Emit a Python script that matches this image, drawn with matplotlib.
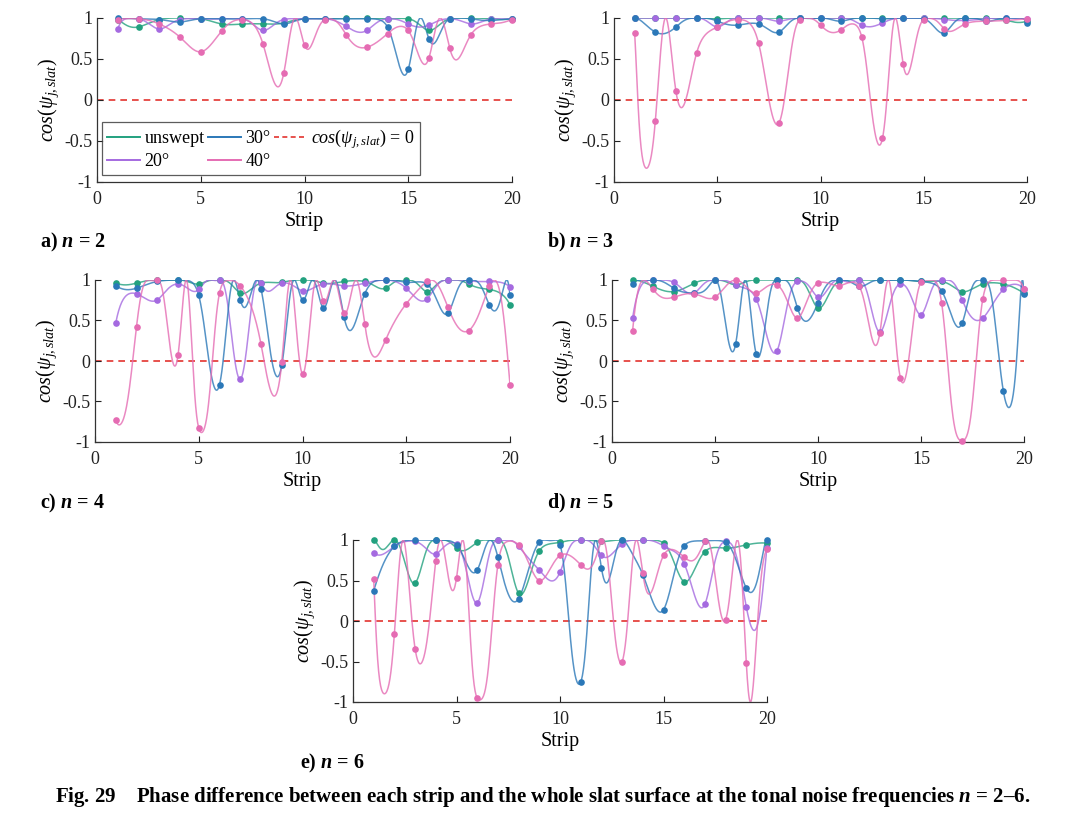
import numpy as np
import matplotlib
matplotlib.use('Agg')
import matplotlib.pyplot as plt
from matplotlib.lines import Line2D

plt.rcParams['font.family'] = ['Liberation Serif', 'DejaVu Serif']
plt.rcParams['mathtext.fontset'] = 'custom'
plt.rcParams['mathtext.rm'] = 'Liberation Serif'
plt.rcParams['mathtext.it'] = 'Liberation Serif:italic'
plt.rcParams['mathtext.bf'] = 'Liberation Serif:italic:bold'

# ─────────────────────────────────────────────
# data: phase angle psi (deg) of each strip
# the plotted value is cos(psi)
# ─────────────────────────────────────────────
strips = np.arange(1, 21)

# n = 2
n2_unswept = [11, 27, 11, 0, 8, 22, 22, 22, 20, 8, 8, 0, 0, 8, 8, 32, 8, 0, 8, 8]
n2_20 = [30, 8, 30, 11, 8, 8, 8, 32, 11, 8, 8, 26, 32, 8, 22, 24, 8, 22, 8, 8]
n2_30 = [0, 8, 11, 18, 8, 8, 8, 8, 22, 8, 8, 8, 8, 27, 68, -42, -8, -8, -14, -8]
n2_40 = [11, 8, 22, 40, 54, 33, 11, 47, 71, -48, -11, -37, -50, -36, -32, -59, 51, 38, 22, 11]

# n = 3
n3_unswept = [0, 0, 0, 0, 8, 0, 0, 0, 0, 0, 0, 0, 0, 0, 0, 0, 0, 0, 14, 16]
n3_20 = [0, 0, 0, 0, 27, 0, 0, 16, 0, 0, 0, 24, 20, 0, 0, 11, 14, 8, 0, 8]
n3_30 = [0, 34, 27, 0, 16, 24, 22, 34, 0, 0, 16, 0, 8, 0, 8, 35, 0, 16, 0, 20]
n3_40 = [35, 105, -84, -55, -27, -11, -46, -106, -11, -24, -31, -40, -118, 64, 11, 30, 22, 16, 14, 8]

# n = 4
n4_unswept = [16, 16, 0, 0, 18, 0, 33, 16, 14, 0, 16, 11, 11, 26, 0, 31, 0, 18, 28, 46]
n4_20 = [62, 34, 41, 18, 28, 0, 103, -16, -16, -30, -18, -22, -16, 0, 26, 40, 0, 8, 11, 24]
n4_30 = [22, 26, 11, 0, -36, -107, 41, -27, -93, 41, -49, 57, 34, 0, 14, 18, 54, 0, 46, -36]
n4_40 = [137, 65, 0, 86, -146, -33, -22, -78, -91, 99, -42, 54, -63, -75, -45, -11, 48, 68, 23, -107]

# n = 5
n5_unswept = [0, 23, 31, 16, 0, 20, 0, 0, 0, 49, 11, 0, 0, 0, 11, 11, 31, 18, 18, 33]
n5_20 = [58, 0, 14, 33, 0, 20, 40, 83, 11, 38, 0, 0, 69, 18, 55, 0, 41, 58, 28, 28]
n5_30 = [18, 0, 26, 33, 0, -78, 85, 0, 49, 44, 0, 23, 0, 0, 11, 30, 62, 0, 112, -34]
n5_40 = [68, -28, -38, -34, -38, 0, 33, 20, 58, 16, 22, 23, 70, -102, -14, -44, -170, -40, 0, 28]

# n = 6
n6_unswept = [0, 0, 62, 0, 26, 14, 0, 70, 30, 14, 0, 11, 0, 0, 16, 61, 31, 26, 20, 16]
n6_20 = [33, 23, 11, 34, 18, 77, 0, 23, 51, 53, 0, 36, 18, 0, 22, 45, 78, 11, 80, 26]
n6_30 = [68, 23, 0, 0, -20, -51, 38, 74, 14, 20, 139, -49, 0, 55, 82, 22, 8, 14, 66, 0]
n6_40 = [59, 99, -110, -42, 58, -162, -46, -20, -60, -36, -46, -11, 120, -54, -36, -38, -11, 89, -121, -332]

series_labels = ['unswept', '20°', '30°', '40°']
colors = ['#22a17f', '#a56ae0', '#2b78b8', '#e56cb3']

panels = [
    ('a', 2, [n2_unswept, n2_20, n2_30, n2_40]),
    ('b', 3, [n3_unswept, n3_20, n3_30, n3_40]),
    ('c', 4, [n4_unswept, n4_20, n4_30, n4_40]),
    ('d', 5, [n5_unswept, n5_20, n5_30, n5_40]),
    ('e', 6, [n6_unswept, n6_20, n6_30, n6_40]),
]

# axes boxes in pixels (left, top, right, bottom) on the 1080x813 canvas
W, H = 1080, 813
boxes = {
    'a': (97, 18, 512, 182),
    'b': (614, 18, 1027, 182),
    'c': (95, 280, 510, 442),
    'd': (612, 280, 1024, 442),
    'e': (353, 540, 767, 702),
}
tag_pos = {'a': (40, 242), 'b': (547, 242), 'c': (40, 503),
           'd': (547, 503), 'e': (300, 763)}

ZERO_CLR = '#e3342f'


def spline(x, y, xq):
    # not-a-knot cubic spline (same as MATLAB spline)
    x = np.asarray(x, float)
    y = np.asarray(y, float)
    n = len(x)
    h = np.diff(x)
    A = np.zeros((n, n))
    r = np.zeros(n)
    A[0, 0], A[0, 1], A[0, 2] = h[1], -(h[0] + h[1]), h[0]
    A[-1, -3], A[-1, -2], A[-1, -1] = h[-1], -(h[-1] + h[-2]), h[-2]
    for i in range(1, n - 1):
        A[i, i - 1] = h[i - 1]
        A[i, i] = 2 * (h[i - 1] + h[i])
        A[i, i + 1] = h[i]
        r[i] = 3 * ((y[i + 1] - y[i]) / h[i] - (y[i] - y[i - 1]) / h[i - 1])
    c = np.linalg.solve(A, r)
    b = (y[1:] - y[:-1]) / h - h * (2 * c[:-1] + c[1:]) / 3
    d = (c[1:] - c[:-1]) / (3 * h)
    idx = np.clip(np.searchsorted(x, xq) - 1, 0, n - 2)
    t = xq - x[idx]
    return y[idx] + b[idx] * t + c[idx] * t ** 2 + d[idx] * t ** 3


fig = plt.figure(figsize=(W / 100, H / 100), dpi=100)
xq = np.linspace(1, 20, 800)

for tag, n, data in panels:
    l, t, r, b = boxes[tag]
    ax = fig.add_axes([l / W, 1 - b / H, (r - l) / W, (b - t) / H])

    ax.plot([0, 20], [0, 0], ls=(0, (4, 3)), color=ZERO_CLR, lw=1.2, zorder=1)
    for psi, clr in zip(data, colors):
        psi_r = np.radians(psi)
        ax.plot(xq, np.cos(spline(strips, psi_r, xq)), color=clr, lw=1.1,
                alpha=0.8, zorder=2)
        ax.plot(strips, np.cos(psi_r), 'o', color=clr, ms=4.8, mec='none',
                zorder=3, clip_on=False)

    ax.set_xlim(0, 20)
    ax.set_ylim(-1, 1)
    ax.set_xticks([0, 5, 10, 15, 20])
    ax.set_yticks([-1, -0.5, 0, 0.5, 1])
    ax.set_yticklabels(['-1', '-0.5', '0', '0.5', '1'])
    ax.tick_params(direction='in', length=4, width=0.8, labelsize=13,
                   colors='#222222')
    ax.tick_params(axis='x', pad=6.5)
    ax.tick_params(axis='y', pad=3.5)
    for sp in ['top', 'right']:
        ax.spines[sp].set_visible(False)
    for sp in ['left', 'bottom']:
        ax.spines[sp].set_color('#333333')
        ax.spines[sp].set_linewidth(0.9)
    ax.set_xlabel('Strip', fontsize=14.5, labelpad=3)
    ax.set_ylabel(r'$cos(\psi_{j,slat})$', fontsize=14.5, labelpad=2)

    tx, ty = tag_pos[tag]
    fig.text(tx / W, 1 - ty / H, f'{tag}) ' + r'$\mathbf{n}$' + f' = {n}',
             fontsize=14.5, fontweight='bold', va='center', ha='left')

    if tag == 'a':
        handles = [Line2D([], [], color=colors[0], lw=1.4),
                   Line2D([], [], color=colors[1], lw=1.4),
                   Line2D([], [], color=colors[2], lw=1.4),
                   Line2D([], [], color=colors[3], lw=1.4),
                   Line2D([], [], color=ZERO_CLR, lw=1.2, ls=(0, (3, 2)))]
        labels = ['unswept', '20°', '30°', '40°',
                  r'$cos(\psi_{j,slat})$ = 0']
        leg = ax.legend(handles, labels, ncol=3, loc='lower left',
                        bbox_to_anchor=(0.012, 0.04), fontsize=13,
                        frameon=True, fancybox=False, handlelength=1.8,
                        handletextpad=0.25, columnspacing=0.2,
                        labelspacing=0.32, borderpad=0.3,
                        borderaxespad=0)
        leg.get_frame().set_edgecolor('#333333')
        leg.get_frame().set_linewidth(0.9)

fig.text(55 / W, 1 - 797 / H,
         'Fig. 29    Phase difference between each strip and the whole slat '
         'surface at the tonal noise frequencies ' + r'$\mathbf{n}$' + ' = 2–6.',
         fontsize=15, fontweight='bold', va='center', ha='left')

fig.savefig('out.png', dpi=100, facecolor='white')
